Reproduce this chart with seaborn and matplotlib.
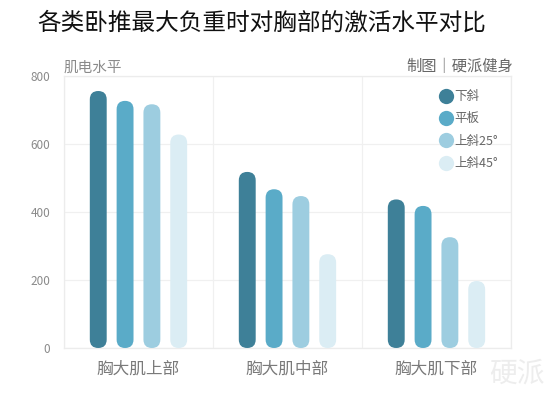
import matplotlib.pyplot as plt
import seaborn as sns
import pandas as pd
from matplotlib.patches import FancyBboxPatch
from matplotlib.lines import Line2D

# data
regions = ['胸大肌上部', '胸大肌中部', '胸大肌下部']
angles = ['下斜', '平板', '上斜25°', '上斜45°']
decline = [756, 518, 437]
flat = [727, 467, 418]
incline25 = [717, 447, 326]
incline45 = [628, 276, 197]
colors = ['#3e8098', '#5aabc8', '#9dcde0', '#dbedf4']

df = pd.DataFrame({
    'region': regions * 4,
    'angle': sum([[a] * 3 for a in angles], []),
    'emg': decline + flat + incline25 + incline45,
})

sns.set_style('white')
plt.rcParams['font.family'] = ['Noto Sans CJK SC', 'DejaVu Sans']

fig = plt.figure(figsize=(5.53, 3.93), dpi=100)
ax = fig.add_axes([0.1157, 0.1145, 0.8083, 0.692])

sns.barplot(data=df, x='region', y='emg', hue='angle', order=regions,
            hue_order=angles, palette=colors, width=0.72, gap=0.37,
            saturation=1, legend=False, ax=ax)

ax.set_xlim(-0.5, 2.5)
ax.set_ylim(0, 800)

# swap the square bars for rounded ones
fig.canvas.draw()
px = ax.transData.transform([(0, 0), (1, 1)])
aspect = (1 / (px[1][1] - px[0][1])) / (1 / (px[1][0] - px[0][0]))
for p in list(ax.patches):
    x, w, h = p.get_x(), p.get_width(), p.get_height()
    if h <= 0:
        continue
    r = w / 2
    rp = FancyBboxPatch((x, 0), w, h,
                        boxstyle=f'round,pad=0,rounding_size={r}',
                        mutation_aspect=aspect,
                        facecolor=p.get_facecolor(), edgecolor='none', zorder=3)
    p.remove()
    ax.add_patch(rp)

ax.set_yticks([0, 200, 400, 600, 800])
ax.set_xticks([-0.5, 0.5, 1.5, 2.5], minor=True)
ax.grid(which='major', axis='y', color='#f0f0f0', lw=0.9, zorder=0)
ax.grid(which='minor', axis='x', color='#f0f0f0', lw=0.9, zorder=0)
ax.set_axisbelow(True)
for s in ax.spines.values():
    s.set_color('#ececec')
    s.set_linewidth(0.9)
ax.tick_params(axis='both', which='both', length=0)
ax.tick_params(axis='y', labelsize=8.5, labelcolor='#8a8a8a', pad=10)
ax.tick_params(axis='x', labelsize=12, labelcolor='#7a7a7a', pad=9)
ax.set_xlabel('')
ax.set_ylabel('')

handles = [Line2D([], [], marker='o', ls='', markersize=11,
                  markerfacecolor=c, markeredgecolor='none') for c in colors]
ax.legend(handles, angles, loc='upper right', bbox_to_anchor=(0.995, 0.99),
          frameon=False, fontsize=9, handletextpad=0.05, labelspacing=0.75,
          labelcolor='#666666', handlelength=1.2)

fig.text(0.474, 0.94, '各类卧推最大负重时对胸部的激活水平对比', ha='center',
         va='center', fontsize=17, color='#111111')
fig.text(0.1157, 0.828, '肌电水平', ha='left', va='center', fontsize=10.5,
         color='#8a8a8a')
fig.text(0.928, 0.83, '制图｜硬派健身', ha='right', va='center', fontsize=11,
         color='#666666')
fig.text(0.935, 0.05, '硬派', ha='center', va='center', fontsize=20,
         color='#ededed', style='italic')

fig.savefig('out.png', dpi=100)
